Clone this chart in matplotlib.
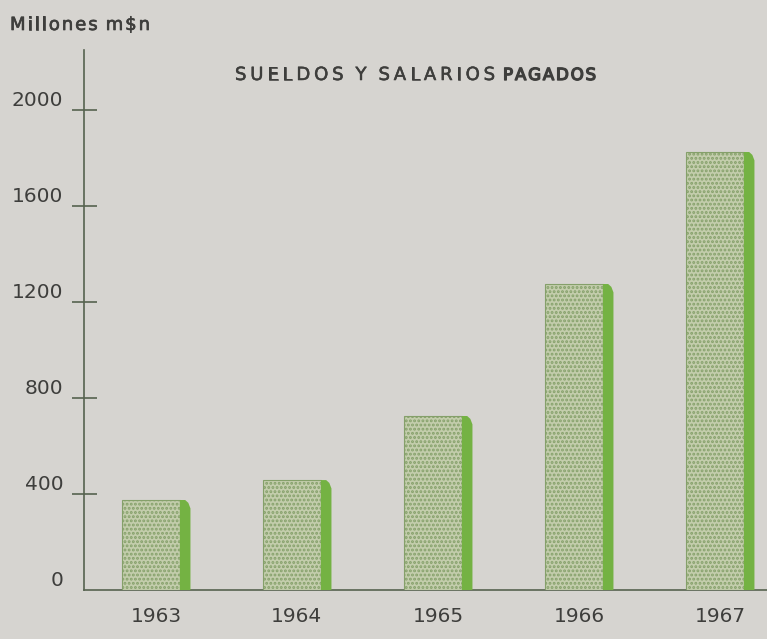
import matplotlib.pyplot as plt
from matplotlib.patches import Polygon
from matplotlib.font_manager import FontProperties
import matplotlib.patheffects as pe

years = ["1963", "1964", "1965", "1966", "1967"]
sueldos = [375, 458, 725, 1275, 1825]
yticks = [0, 400, 800, 1200, 1600, 2000]

BG = "#d6d4d0"
FACE = "#c3cdac"
DOTS = "#85a06a"
SIDE = "#74b243"
INK = "#3e3e3c"
AXIS = "#56624f"
W, H = 767, 639

plt.rcParams['font.family'] = ['DejaVu Sans']
plt.rcParams['hatch.color'] = DOTS
plt.rcParams['hatch.linewidth'] = 1.4

fig = plt.figure(figsize=(W / 100, H / 100), dpi=100, facecolor=BG)
ax = fig.add_axes([84 / W, 49 / H, (W - 84) / W, 540 / H], facecolor=BG)

x = list(range(len(years)))
face_w = 0.41
side_w = 0.075
face_off = -0.24

ax.bar([i + face_off for i in x], sueldos, width=face_w, align='edge',
       color=FACE, edgecolor=DOTS, hatch='....', linewidth=0.8, zorder=3)

# darker green side strip with rounded top corner
for i, v in zip(x, sueldos):
    r = i + face_off + face_w
    pts = [(r, 0), (r, v), (r + side_w * 0.5, v), (r + side_w * 0.8, v - 12),
           (r + side_w, v - 35), (r + side_w, 0)]
    ax.add_patch(Polygon(pts, closed=True, color=SIDE, lw=0, zorder=3))

ax.set_xlim(-0.51, 4.334)
ax.set_ylim(0, 2250)

ax.set_xticks(x)
ax.set_xticklabels(years, fontsize=14.5, color=INK)
ax.tick_params(axis='x', length=0, pad=12)

ax.set_yticks(yticks)
ax.set_yticklabels([str(t) for t in yticks], fontsize=14.5, color=INK)
ax.tick_params(axis='y', direction='inout', length=18, width=1.2,
               color=AXIS, pad=6)
for lab in ax.get_yticklabels():
    lab.set_va('bottom')
ax.yaxis.get_major_ticks()[0].tick1line.set_visible(False)

for s in ['top', 'right']:
    ax.spines[s].set_visible(False)
ax.spines['left'].set_color(AXIS)
ax.spines['bottom'].set_color(AXIS)
ax.spines['left'].set_linewidth(1.2)
ax.spines['bottom'].set_linewidth(1.2)

renderer = fig.canvas.get_renderer()


def spaced(x0, x1, y0, s, size, stroke, space):
    # letter-spaced text spread between pixel x0 and x1, y0 from the top
    prop = FontProperties(family='DejaVu Sans', size=size)
    items = []
    for ch in s:
        if ch == ' ':
            items.append((None, space))
            continue
        t = fig.text(0, 1 - y0 / H, ch, fontproperties=prop, color=INK,
                     va='center', ha='left')
        if stroke:
            t.set_path_effects([pe.withStroke(linewidth=stroke,
                                              foreground=INK)])
        items.append((t, t.get_window_extent(renderer).width))
    pairs = sum(1 for a, b in zip(s, s[1:]) if a != ' ' and b != ' ')
    track = (x1 - x0 - sum(w for _, w in items)) / max(pairs, 1)
    xp = x0
    for k, (t, w) in enumerate(items):
        if t is not None:
            t.set_x(xp / W)
        xp += w
        if t is not None and k + 1 < len(s) and s[k + 1] != ' ':
            xp += track


spaced(10, 150, 25, "Millones m$n", 13, 0.5, 8)
spaced(235, 495, 75, "SUELDOS Y SALARIOS", 13, 0.4, 12)
spaced(503, 596, 75, "PAGADOS", 12, 1.0, 10)

fig.savefig("out.png", dpi=100, facecolor=BG)
